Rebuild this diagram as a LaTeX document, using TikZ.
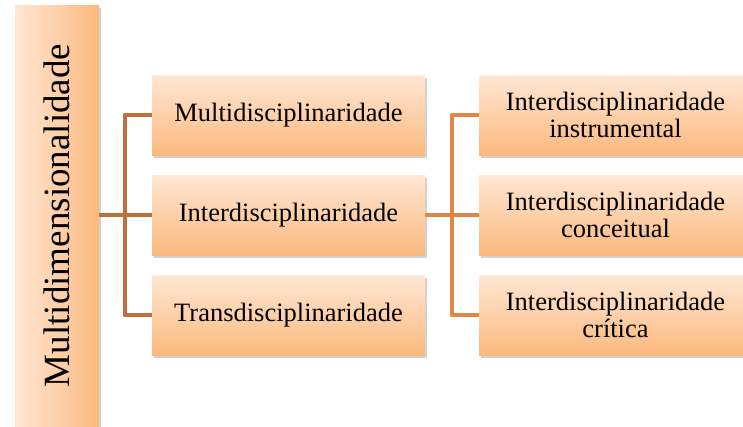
\documentclass[tikz,border=0pt]{standalone}
\usepackage{fontspec}
\setmainfont{Liberation Serif}
\usetikzlibrary{shadows}
\definecolor{lightor}{HTML}{FFE7D4}
\definecolor{darkor}{HTML}{FBB97E}
\definecolor{lconncol}{HTML}{C0713A}
\definecolor{rconncol}{HTML}{DF8747}
\begin{document}
\begin{tikzpicture}[x=1pt,y=-1pt,
  box/.style={draw=none, top color=lightor, bottom color=darkor,
    drop shadow={shadow xshift=2pt, shadow yshift=-3pt, opacity=0.35, fill=gray},
    font=\fontsize{26.5}{27}\selectfont, align=center, inner sep=0pt,
    minimum width=273pt, minimum height=80pt},
  mainbox/.style={draw=none, left color=lightor, right color=darkor,
    drop shadow={shadow xshift=2pt, shadow yshift=-3pt, opacity=0.35, fill=gray},
    inner sep=0pt, minimum width=84pt, minimum height=430pt},
  maintext/.style={font=\fontsize{37}{40}\selectfont, rotate=90, inner sep=0pt},
  lconn/.style={draw=lconncol, line width=4pt, line join=round},
  rconn/.style={draw=rconncol, line width=4pt, line join=round}]
\useasboundingbox (0,0) rectangle (743,426);
\clip (0,0) rectangle (743,426);
\fill[white] (0,0) rectangle (743,426);
\node[mainbox] (md) at (57,220) {};
\node[maintext] (mdt) at (57,215.5) {Multidimensionalidade};
\node[box] (m1) at (288.5,115) {Multidisciplinaridade};
\node[box] (m2) at (288.5,215) {Interdisciplinaridade};
\node[box] (m3) at (288.5,315) {Transdisciplinaridade};
\node[box] (r1) at (615.5,115) {Interdisciplinaridade\\instrumental};
\node[box] (r2) at (615.5,215) {Interdisciplinaridade\\conceitual};
\node[box] (r3) at (615.5,315) {Interdisciplinaridade\\crítica};
\draw[lconn] (md.east |- m2.west) -- (m2.west);
\draw[lconn] (m1.west) -- ++(-27,0) |- (m3.west);
\draw[rconn] (m2.east) -- (r2.west);
\draw[rconn] (r1.west) -- ++(-27,0) |- (r3.west);
\end{tikzpicture}
\end{document}
